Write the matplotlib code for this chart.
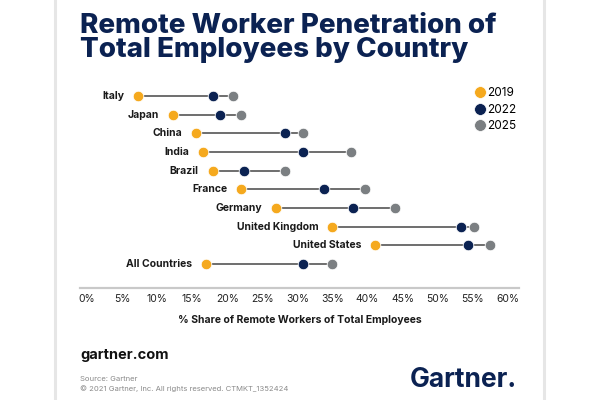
import matplotlib
matplotlib.use("Agg")
from matplotlib import pyplot as plt
from matplotlib.lines import Line2D

plt.rcParams['font.family'] = ['Inter', 'DejaVu Sans']

countries = ['Italy', 'Japan', 'China', 'India', 'Brazil', 'France', 'Germany',
             'United Kingdom', 'United States', 'All Countries']
share_2019 = [7.3, 12.2, 15.5, 16.6, 17.9, 22.0, 27.0, 35.0, 41.1, 16.9]
share_2022 = [17.9, 18.9, 28.3, 30.8, 22.4, 33.8, 38.0, 53.3, 54.3, 30.8]
share_2025 = [20.8, 22.0, 30.8, 37.6, 28.2, 39.7, 43.9, 55.2, 57.5, 35.0]
years = ['2019', '2022', '2025']
xticks = list(range(0, 61, 5))

YELLOW = '#F5A91E'
NAVY = '#0B2252'
GRAY = '#7B7F82'
LINE = '#6E6E6E'

fig = plt.figure(figsize=(6, 4), dpi=100)
ax = fig.add_axes([80 / 600, 1 - 288 / 400, 439 / 600, 203 / 400])

ypos = list(range(len(countries)))
for y, a, c in zip(ypos, share_2019, share_2025):
    ax.plot([a, c], [y, y], color=LINE, lw=1.4, zorder=1, solid_capstyle='butt')

for vals, col in zip([share_2019, share_2022, share_2025], [YELLOW, NAVY, GRAY]):
    ax.scatter(vals, ypos, s=58, color=col, edgecolor='white', linewidth=0.6, zorder=3)

for y, name, a in zip(ypos, countries, share_2019):
    ax.annotate(name, (a, y), xytext=(-10, 0), textcoords='offset points',
                ha='right', va='center', fontsize=7.5, fontweight='bold', color='#1a1a1a')

ax.set_xlim(-1.0, 61.6)
ax.set_ylim(10.29, -0.59)
ax.set_xticks(xticks)
ax.set_xticklabels([f'{t}%' for t in xticks], fontsize=7.5, color='#222222')
ax.tick_params(axis='x', length=0, pad=4)
ax.set_yticks([])
for s in ['top', 'right', 'left']:
    ax.spines[s].set_visible(False)
ax.spines['bottom'].set_color('#c9c9c9')
ax.spines['bottom'].set_linewidth(1.6)
ax.set_xlabel('% Share of Remote Workers of Total Employees', fontsize=7.5,
              fontweight='bold', color='#1a1a1a', labelpad=8)

handles = [Line2D([], [], marker='o', ls='', markersize=8.5, color=c, markeredgecolor='white',
                  markeredgewidth=0.5) for c in [YELLOW, NAVY, GRAY]]
fig.legend(handles, years, loc='upper left', bbox_to_anchor=(474 / 600, 1 - 87 / 400),
           frameon=False, fontsize=8.5, handletextpad=0.1, labelspacing=0.4,
           handlelength=1.0, borderpad=0, borderaxespad=0)

# title
fig.text(80 / 600, 1 - 33 / 400, 'Remote Worker Penetration of', fontsize=20, fontweight='heavy',
         color=NAVY, va='baseline', ha='left')
fig.text(80 / 600, 1 - 57 / 400, 'Total Employees by Country', fontsize=20, fontweight='heavy',
         color=NAVY, va='baseline', ha='left')

# footer
fig.text(80 / 600, 1 - 359 / 400, 'gartner.com', fontsize=10.5, fontweight='bold',
         color='#111111', va='baseline', ha='left')
fig.text(80 / 600, 1 - 381 / 400, 'Source: Gartner', fontsize=5.5, color='#8a8a8a',
         va='baseline', ha='left')
fig.text(80 / 600, 1 - 391 / 400, '\u00a9 2021 Gartner, Inc. All rights reserved. CTMKT_1352424',
         fontsize=5.5, color='#8a8a8a', va='baseline', ha='left')
fig.text(517 / 600, 1 - 387 / 400, 'Gartner.', fontsize=19, fontweight='bold', color=NAVY,
         va='baseline', ha='right')

# card edges
for xe in [55, 544]:
    fig.add_artist(Line2D([xe / 600, xe / 600], [0, 1], color='#e6e6e6', lw=2.2))

fig.savefig('out.png', dpi=100, facecolor='white')
